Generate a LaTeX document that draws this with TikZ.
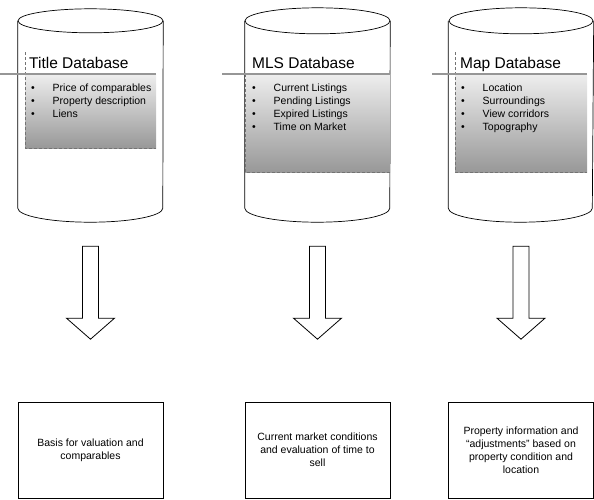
\documentclass[tikz,border=0pt]{standalone}
\usepackage{fontspec}
\setmainfont{Liberation Sans}
\usetikzlibrary{positioning}
\definecolor{panelTop}{RGB}{238,238,238}
\definecolor{panelBot}{RGB}{152,152,152}
\definecolor{ruleGray}{RGB}{150,150,150}
\newcommand{\bul}[1]{\makebox[21.5pt][l]{\textbullet}#1}
\begin{document}
\begin{tikzpicture}[
  x=1pt, y=1pt,
  every node/.style={font=\fontsize{10.5}{13}\selectfont, inner sep=0pt},
  dbbody/.style={minimum width=145pt, minimum height=187pt},
  dbtitle/.style={font=\fontsize{15.5}{18}\selectfont, anchor=base west},
  items/.style={align=left, anchor=north west},
  panel/.style={top color=panelTop, bottom color=panelBot},
  frame/.style={draw=black!55, densely dashed, line width=0.6pt},
  rule/.style={draw=ruleGray, line width=2pt},
  result/.style={
    draw,
    line width=0.7pt,
    align=center,
    minimum width=145pt,
    minimum height=96pt
  },
  pics/downarrow/.style={code={
    \draw[line width=0.8pt] (-8,0) -- (-8,-72) -- (-24,-72) -- (0,-93)
      -- (24,-72) -- (8,-72) -- (8,0) -- cycle;
  }}
]
\useasboundingbox (0,0) rectangle (594,-499);

% the three databases
\node[dbbody] (titledb) at (90.5,-114.5) {};
\node[dbbody] (mlsdb) at (317.5,-114.5) {};
\node[dbbody] (mapdb) at (521,-114.5) {};

\draw[line width=0.7pt] (titledb.north) ellipse [x radius=72.5, y radius=12];
\draw[line width=0.7pt] (titledb.north west) -- (titledb.south west)
  arc [start angle=180, end angle=360, x radius=72.5, y radius=14] -- (titledb.north east);
\draw[line width=0.7pt] (mlsdb.north) ellipse [x radius=72.5, y radius=13];
\draw[line width=0.7pt] (mlsdb.north west) -- (mlsdb.south west)
  arc [start angle=180, end angle=360, x radius=72.5, y radius=14] -- (mlsdb.north east);
\draw[line width=0.7pt] (mapdb.north) ellipse [x radius=72, y radius=13];
\draw[line width=0.7pt] (mapdb.north west) -- (mapdb.south west)
  arc [start angle=180, end angle=360, x radius=72, y radius=14] -- (mapdb.north east);

% shaded panels
\fill[panel] (25,-74) rectangle (156,-148);
\draw[frame] (25,-52) -- (25,-148) -- (156,-148);
\draw[rule] (0,-74) -- (156,-74);
\fill[panel] (245,-74) rectangle (390,-172);
\draw[frame] (245,-74) -- (245,-172) -- (390,-172);
\draw[rule] (222,-74) -- (390,-74);
\fill[panel] (455,-74) rectangle (587,-172);
\draw[frame] (455,-52) -- (455,-172) -- (587,-172);
\draw[rule] (432,-74) -- (587,-74);

\node[dbtitle] (titlehead) at (29,-68) {Title Database};
\node[items] (titleitems) at (31,-84) {\bul{Price of comparables}\\\bul{Property description}\\\bul{Liens}};
\node[dbtitle] (mlshead) at (252,-68) {MLS Database};
\node[items] (mlsitems) at (252,-84) {\bul{Current Listings}\\\bul{Pending Listings}\\\bul{Expired Listings}\\\bul{Time on Market}};
\node[dbtitle] (maphead) at (460,-68) {Map Database};
\node[items] (mapitems) at (461,-84) {\bul{Location}\\\bul{Surroundings}\\\bul{View corridors}\\\bul{Topography}};

% arrows down to the results
\coordinate[below=38pt of titledb.south] (titlearrow);
\coordinate[below=38pt of mlsdb.south] (mlsarrow);
\coordinate[below=38pt of mapdb.south] (maparrow);
\pic at (titlearrow) {downarrow};
\pic at (mlsarrow) {downarrow};
\pic at (maparrow) {downarrow};

\node[result] (titleout) at (90.5,-450) {Basis for valuation and\\comparables};
\node[result] (mlsout) at (317.5,-450) {Current market conditions\\and evaluation of time to\\sell};
\node[result] (mapout) at (521,-450) {Property information and\\``adjustments'' based on\\property condition and\\location};
\end{tikzpicture}
\end{document}
